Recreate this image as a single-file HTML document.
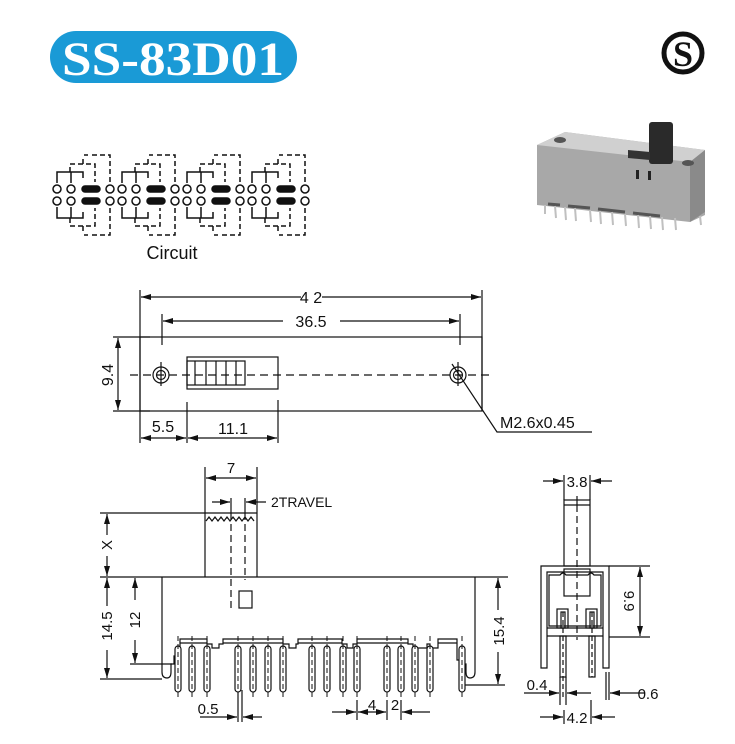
<!DOCTYPE html>
<html><head><meta charset="utf-8"><style>
html,body{margin:0;padding:0;background:#fff;}
svg{display:block;}
text{font-family:"Liberation Sans",sans-serif;fill:#111;}
</style></head><body>
<svg width="735" height="744" viewBox="0 0 735 744" xmlns="http://www.w3.org/2000/svg">
<defs>
<marker id="a" viewBox="0 0 10 6" refX="10" refY="3" markerWidth="10" markerHeight="6" orient="auto-start-reverse" markerUnits="userSpaceOnUse"><path d="M0,0 L10,3 L0,6 z" fill="#111"/></marker>
<g id="pin">
<rect x="-3" y="646" width="6" height="46" rx="3" fill="#fff" stroke="#111" stroke-width="1.2"/>
<line x1="0" y1="636" x2="0" y2="700" stroke="#111" stroke-width="1" stroke-dasharray="5,3"/>
</g>
<g id="cg" fill="none" stroke="#111" stroke-width="1.5">
<circle cx="57" cy="189" r="4"/><circle cx="71" cy="189" r="4"/><circle cx="110" cy="189" r="4"/>
<circle cx="57" cy="201" r="4"/><circle cx="71" cy="201" r="4"/><circle cx="110" cy="201" r="4"/>
<rect x="82" y="186" width="18" height="6" rx="3" fill="#111"/>
<rect x="82" y="198" width="18" height="6" rx="3" fill="#111"/>
<path d="M57,183 V172 H83 V178 M71,172 V183"/>
<path d="M57,207 V218 H83 V212 M71,218 V207"/>
<path d="M70,172 V164 H95 V182 M83,164 V158 M92,155 H110 V182 M84,155 H88" stroke-dasharray="5,3"/>
<path d="M70,218 V226 H95 V208 M83,226 V232 M92,235 H110 V208 M84,235 H88" stroke-dasharray="5,3"/>
</g>
</defs>

<!-- title pill -->
<rect x="50" y="31" width="247" height="52" rx="26" fill="#1a9ad6"/>
<text x="62" y="75" textLength="222" lengthAdjust="spacingAndGlyphs" style="font-family:'Liberation Serif',serif;font-weight:bold;font-size:48px;fill:#fff">SS-83D01</text>

<!-- S logo -->
<circle cx="683" cy="53" r="19" fill="none" stroke="#111" stroke-width="5"/>
<text x="683" y="66" text-anchor="middle" style="font-family:'Liberation Serif',serif;font-weight:bold;font-size:36px">S</text>

<!-- photo -->
<g>
<polygon points="537,145 565,132 705,150 705,215 690,222 537,205" fill="#a8a8a8"/>
<polygon points="537,145 565,132 705,150 690,162" fill="#d0d0d0"/>
<polygon points="690,162 705,150 705,212 690,222" fill="#8a8a8a"/>
<rect x="649" y="122" width="24" height="42" rx="3" fill="#2a2a2a"/>
<polygon points="628,150 650,152 650,160 628,158" fill="#333"/>
<ellipse cx="560" cy="140" rx="6" ry="3" fill="#555"/>
<ellipse cx="688" cy="163" rx="6" ry="3" fill="#555"/>
<rect x="636" y="170" width="3" height="9" fill="#222"/><rect x="648" y="171" width="3" height="9" fill="#222"/>
<g stroke="#555" stroke-width="3"><line x1="548" y1="204" x2="560" y2="205"/><line x1="568" y1="206" x2="590" y2="208"/><line x1="598" y1="209" x2="625" y2="212"/><line x1="633" y1="213" x2="660" y2="216"/></g>
<g stroke="#c0c0c0" stroke-width="2">
<line x1="545" y1="205" x2="545" y2="214"/><line x1="555" y1="206" x2="556" y2="218"/><line x1="565" y1="207" x2="566" y2="220"/><line x1="575" y1="208" x2="576" y2="221"/><line x1="590" y1="210" x2="591" y2="222"/><line x1="600" y1="211" x2="601" y2="224"/><line x1="612" y1="212" x2="613" y2="225"/><line x1="625" y1="214" x2="626" y2="226"/><line x1="638" y1="215" x2="639" y2="228"/><line x1="650" y1="216" x2="651" y2="229"/><line x1="662" y1="217" x2="663" y2="230"/><line x1="675" y1="218" x2="676" y2="230"/><line x1="700" y1="216" x2="701" y2="225"/>
</g>
</g>

<!-- circuit -->
<use href="#cg"/>
<use href="#cg" x="65"/>
<use href="#cg" x="130"/>
<use href="#cg" x="195"/>
<text x="172" y="259" text-anchor="middle" font-size="18">Circuit</text>

<!-- top view -->
<g stroke="#111" stroke-width="1.2" fill="none">
<rect x="140" y="337" width="342" height="74"/>
<line x1="130" y1="375" x2="492" y2="375" stroke-dasharray="8,5"/>
<circle cx="161" cy="375" r="8"/><circle cx="161" cy="375" r="4.5"/>
<circle cx="458" cy="375" r="8"/><circle cx="458" cy="375" r="4.5"/>
<line x1="161" y1="362" x2="161" y2="386"/><line x1="458" y1="362" x2="458" y2="386"/>
<rect x="187" y="357" width="91" height="32"/>
<rect x="187" y="361" width="58" height="24"/>
<path d="M195,361V385 M206,361V385 M216,361V385 M226,361V385 M236,361V385"/>
<path d="M140,290V411 M482,290V411 M162,314V345 M460,314V345 M187,402V443 M278,400V443 M140,411V443"/>
<line x1="141" y1="297" x2="301" y2="297" marker-start="url(#a)"/>
<line x1="322" y1="297" x2="481" y2="297" marker-end="url(#a)"/>
<line x1="163" y1="321" x2="283" y2="321" marker-start="url(#a)"/>
<line x1="340" y1="321" x2="459" y2="321" marker-end="url(#a)"/>
<line x1="118" y1="338" x2="118" y2="410" marker-start="url(#a)" marker-end="url(#a)"/>
<path d="M113,337H150 M113,411H150"/>
<line x1="141" y1="438" x2="186" y2="438" marker-start="url(#a)" marker-end="url(#a)"/>
<line x1="188" y1="438" x2="277" y2="438" marker-start="url(#a)" marker-end="url(#a)"/>
<polyline points="452,364 497,432 592,432"/>
</g>
<text x="311" y="303" text-anchor="middle" font-size="16">4 2</text>
<text x="311" y="327" text-anchor="middle" font-size="16">36.5</text>
<text x="163" y="432" text-anchor="middle" font-size="16">5.5</text>
<text x="233" y="434" text-anchor="middle" font-size="16">11.1</text>
<text x="500" y="428" font-size="16">M2.6x0.45</text>
<text transform="translate(113,375) rotate(-90)" text-anchor="middle" font-size="16">9.4</text>

<!-- front view -->
<g stroke="#111" stroke-width="1.2" fill="none">
<path d="M205,467V577 M257,467V577"/>
<line x1="206" y1="478" x2="256" y2="478" marker-start="url(#a)" marker-end="url(#a)"/>
<line x1="212" y1="502" x2="230" y2="502" marker-end="url(#a)"/>
<line x1="266" y1="502" x2="246" y2="502" marker-end="url(#a)"/>
<path d="M231,498V513 M245,498V513"/>
<path d="M231,513V608 M245,513V580" stroke-dasharray="7,4"/>
<path d="M100,513H257"/>
<path d="M206,521l3,-4l3,4l3,-4l3,4l3,-4l3,4l3,-4l3,4l3,-4l3,4l3,-4l3,4l3,-4l3,4l3,-4l3,4"/>
<path d="M100,577H508"/>
<rect x="239" y="591" width="13" height="17"/>
<path d="M162,577V672 Q162,678 167,678 Q171,678 171,672 V664 H174 V656 H180 V639 H207 V644 H212 V648 H219 V644 H223 V639 H283 V644 H289 V648 H296 V644 H298 V639 H342 V644 H347 V648 H353 V644 H357 V639 H408 V644 H413 V648 H427 V644 H430 V648 H438 V639 H457 V660 H463 V685 H505"/>
<path d="M180,643H207 M223,643H283 M298,643H342 M357,643H408 M438,643H457"/>
<path d="M475,577 V672 Q475,678 470,678 Q466,678 466,672 V664 H463"/>
<line x1="107" y1="514" x2="107" y2="535" marker-start="url(#a)"/>
<line x1="107" y1="556" x2="107" y2="576" marker-end="url(#a)"/>
<line x1="107" y1="578" x2="107" y2="606" marker-start="url(#a)"/>
<line x1="107" y1="650" x2="107" y2="678" marker-end="url(#a)"/>
<path d="M100,679H162"/>
<line x1="135" y1="578" x2="135" y2="600" marker-start="url(#a)"/>
<line x1="135" y1="640" x2="135" y2="663" marker-end="url(#a)"/>
<path d="M130,664H172"/>
<line x1="498" y1="578" x2="498" y2="610" marker-start="url(#a)"/>
<line x1="498" y1="652" x2="498" y2="684" marker-end="url(#a)"/>
<path d="M238,690V722 M242,690V722 M357,700V720 M387,700V720 M401,700V720"/>
<line x1="200" y1="717" x2="237" y2="717" marker-end="url(#a)"/>
<line x1="262" y1="717" x2="243" y2="717" marker-end="url(#a)"/>
<line x1="332" y1="712" x2="356" y2="712" marker-end="url(#a)"/>
<line x1="358" y1="712" x2="386" y2="712" marker-start="url(#a)" marker-end="url(#a)"/>
<line x1="430" y1="712" x2="402" y2="712" marker-end="url(#a)"/>
</g>
<g>
<use href="#pin" x="178"/><use href="#pin" x="192"/><use href="#pin" x="207"/>
<use href="#pin" x="238"/><use href="#pin" x="253"/><use href="#pin" x="268"/><use href="#pin" x="283"/>
<use href="#pin" x="312"/><use href="#pin" x="327"/><use href="#pin" x="343"/><use href="#pin" x="357"/>
<use href="#pin" x="387"/><use href="#pin" x="401"/><use href="#pin" x="415"/><use href="#pin" x="430"/>
<use href="#pin" x="462"/>
</g>
<text x="231" y="473" text-anchor="middle" font-size="15">7</text>
<text x="271" y="507" font-size="14">2TRAVEL</text>
<text transform="translate(112,545) rotate(-90)" text-anchor="middle" font-size="15">X</text>
<text transform="translate(112,626) rotate(-90)" text-anchor="middle" font-size="15">14.5</text>
<text transform="translate(140,620) rotate(-90)" text-anchor="middle" font-size="15">12</text>
<text transform="translate(504,631) rotate(-90)" text-anchor="middle" font-size="15">15.4</text>
<text x="208" y="714" text-anchor="middle" font-size="15">0.5</text>
<text x="372" y="710" text-anchor="middle" font-size="15">4</text>
<text x="395" y="710" text-anchor="middle" font-size="15">2</text>

<!-- side view -->
<g stroke="#111" stroke-width="1.2" fill="none">
<path d="M564,475V500 M590,475V500"/>
<line x1="543" y1="481" x2="563" y2="481" marker-end="url(#a)"/>
<line x1="612" y1="481" x2="591" y2="481" marker-end="url(#a)"/>
<rect x="564" y="500" width="26" height="66"/>
<path d="M564,505H590 M577,496V505"/>
<path d="M577,505V640" stroke-dasharray="7,4"/>
<path d="M541,566H609V668H603V572H547V668H541Z"/>
<path d="M549,575H560 q3,-4 6,0 H588 q3,-4 6,0 H601 V626 H549Z"/>
<rect x="564" y="569" width="26" height="27"/>
<path d="M547,628H603 M547,636H603"/>
<rect x="557" y="609" width="11" height="19"/><rect x="586" y="609" width="11" height="19"/>
<rect x="561" y="612" width="4" height="16"/><rect x="590" y="612" width="4" height="16"/>
<rect x="560" y="636" width="6" height="41"/><rect x="589" y="636" width="6" height="41"/>
<path d="M563,612V700 M592,612V677" stroke-dasharray="5,3"/>
<path d="M560,677V705 M566,677V705 M606,672V700 M609,672V700 M564,710V724 M591,700V724"/>
<path d="M609,566H650 M609,637H650"/>
<line x1="640" y1="567" x2="640" y2="636" marker-start="url(#a)" marker-end="url(#a)"/>
<line x1="524" y1="693" x2="559" y2="693" marker-end="url(#a)"/>
<line x1="567" y1="693" x2="591" y2="693" marker-start="url(#a)"/>
<line x1="645" y1="693" x2="610" y2="693" marker-end="url(#a)"/>
<line x1="540" y1="717" x2="563" y2="717" marker-end="url(#a)"/>
<line x1="615" y1="717" x2="592" y2="717" marker-end="url(#a)"/>
</g>
<text x="577" y="487" text-anchor="middle" font-size="15">3.8</text>
<text transform="translate(624,601) rotate(90)" text-anchor="middle" font-size="15">9.9</text>
<text x="537" y="690" text-anchor="middle" font-size="15">0.4</text>
<text x="648" y="699" text-anchor="middle" font-size="15">0.6</text>
<text x="577" y="723" text-anchor="middle" font-size="15">4.2</text>
</svg>
</body></html>
